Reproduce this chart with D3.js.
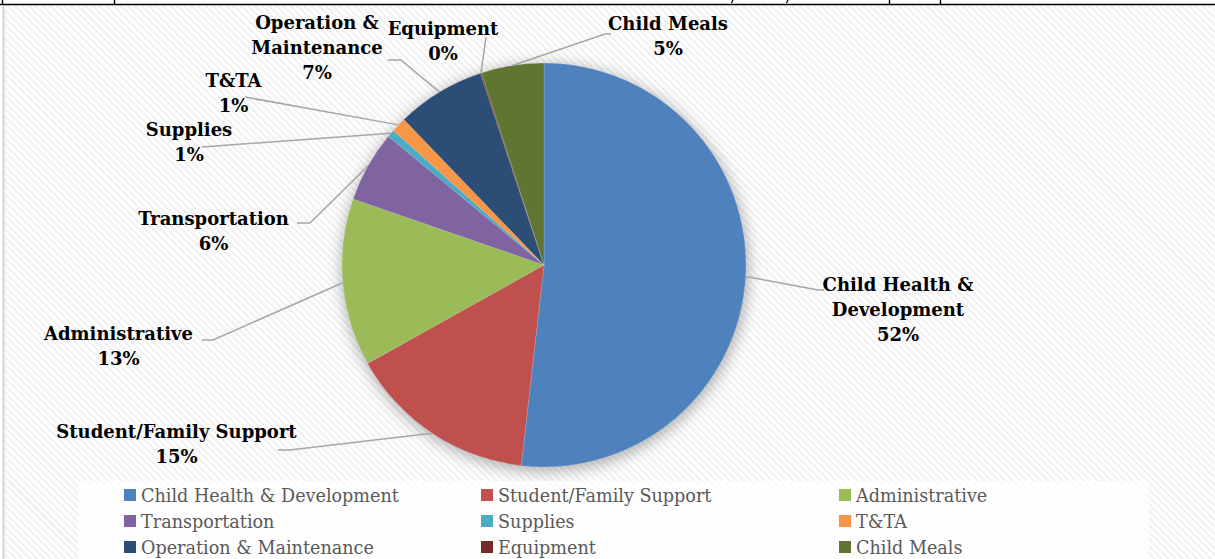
<!DOCTYPE html>
<html><head><meta charset="utf-8">
<script src="https://cdn.jsdelivr.net/npm/d3@7"></script>
<style>body{margin:0;background:#fff;overflow:hidden}</style>
</head><body><svg id="c" width="1215" height="559"></svg>
<script>
// ---- data ----
const categories = ["Child Health & Development","Student/Family Support","Administrative","Transportation","Supplies","T&TA","Operation & Maintenance","Equipment","Child Meals"];
const values = [51.8, 15.1, 13.4, 5.7, 0.6, 1.2, 7.1, 0.1, 5.0];
const colors = ["#4F81BD","#C0504D","#9BBB59","#8064A2","#4BACC6","#F79646","#2C4D75","#772C2A","#5F7530"];
const labelLines = [["Child Health &","Development"],["Student/Family Support"],["Administrative"],["Transportation"],["Supplies"],["T&TA"],["Operation &","Maintenance"],["Equipment"],["Child Meals"]];

// ---- layout ----
const labelAnchor = [[898,291],[176.5,438],[118.5,340],[213.5,225],[189,136],[233.5,87],[317,29],[443,35],[668,30]];
const leaderElbow = [[818,290,824],[290,450,278],[213,340,202],[310,223,297],[202,147,202],[245,97,245],[401,60,388],[486,37,486],[605,34,611]];
const cx = 544, cy = 265, R = 202;
const labelFont = "'DejaVu Serif', serif";

const svg = d3.select("#c");
const defs = svg.append("defs");
const pat = defs.append("pattern").attr("id","stripes").attr("width",5).attr("height",5)
  .attr("patternUnits","userSpaceOnUse").attr("patternTransform","rotate(-45)");
pat.append("rect").attr("width",5).attr("height",5).attr("fill","#ffffff");
pat.append("rect").attr("width",2.5).attr("height",5).attr("fill","#f1f1f1");
const blur = defs.append("filter").attr("id","shadow").attr("x","-20%").attr("y","-20%").attr("width","140%").attr("height","140%");
blur.append("feGaussianBlur").attr("stdDeviation",7);

// background / chart area
svg.append("rect").attr("x",4).attr("y",5).attr("width",1211).attr("height",554).attr("fill","url(#stripes)");
svg.append("line").attr("x1",3.5).attr("x2",3.5).attr("y1",5).attr("y2",559).attr("stroke","#d4d4d4").attr("stroke-width",2);
// table fragment at top
svg.append("line").attr("x1",0).attr("x2",1215).attr("y1",4.5).attr("y2",4.5).attr("stroke","#000").attr("stroke-width",1.6);
[2.5,114.5,889.5,940.5].forEach(x=>svg.append("line").attr("x1",x).attr("x2",x).attr("y1",0).attr("y2",5).attr("stroke","#000").attr("stroke-width",1.4));
[733,788].forEach(x=>svg.append("path").attr("d",`M${x},0 L${x-1.5},3`).attr("stroke","#000").attr("stroke-width",1.3));

// pie
const g = svg.append("g").attr("transform",`translate(${cx},${cy})`);
g.append("circle").attr("r",R+2).attr("cx",1).attr("cy",3).attr("fill","#000").attr("opacity",0.28).attr("filter","url(#shadow)");
const pie = d3.pie().sort(null).value(d=>d)(values);
const arc = d3.arc().innerRadius(0).outerRadius(R);
g.selectAll("path.slice").data(pie).join("path").attr("class","slice")
  .attr("d",arc).attr("fill",(d,i)=>colors[i]).attr("stroke","#ffffff").attr("stroke-width",0.3).attr("stroke-opacity",0.5);

// leader lines
pie.forEach((d,i)=>{
  const a = (d.startAngle+d.endAngle)/2;
  const sx = cx + R*Math.sin(a), sy = cy - R*Math.cos(a);
  const [ex,ey,tx] = leaderElbow[i];
  svg.append("polyline").attr("points",`${sx},${sy} ${ex},${ey} ${tx},${ey}`)
    .attr("fill","none").attr("stroke","#a6a6a6").attr("stroke-width",1.5);
});

// data labels
pie.forEach((d,i)=>{
  const [lx,ly] = labelAnchor[i];
  const lines = labelLines[i].concat([Math.round(values[i]/d3.sum(values)*100)+"%"]);
  const t = svg.append("text").attr("font-family",labelFont).attr("font-weight","bold")
    .attr("font-size",18).attr("fill","#000").attr("text-anchor","middle");
  lines.forEach((s,k)=>t.append("tspan").attr("x",lx).attr("y",ly+k*25).text(s));
});

// legend
svg.append("rect").attr("x",78).attr("y",481).attr("width",1071).attr("height",78).attr("fill","#ffffff").attr("opacity",0.75);
const colX = [124,481,839], rowY = [495,521,547];
categories.forEach((c,i)=>{
  const x = colX[i%3], y = rowY[Math.floor(i/3)];
  svg.append("rect").attr("x",x).attr("y",y-6).attr("width",12).attr("height",12).attr("fill",colors[i]);
  svg.append("text").attr("x",x+17).attr("y",y+6.5).attr("font-family",labelFont).attr("font-size",17.6)
    .attr("fill","#595959").text(c);
});
</script></body></html>
